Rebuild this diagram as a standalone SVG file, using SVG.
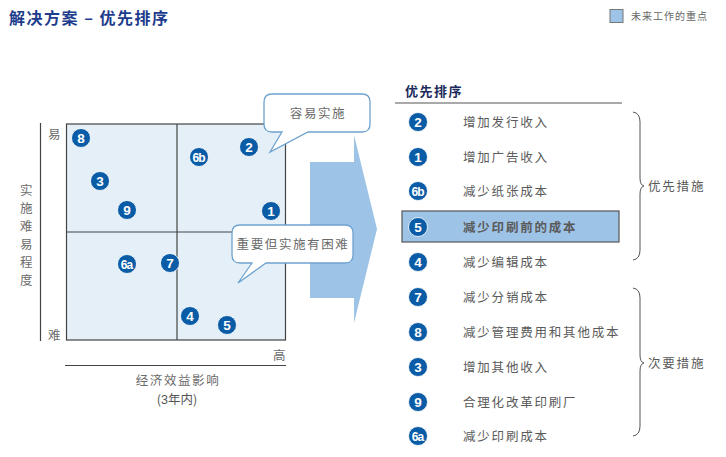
<svg xmlns="http://www.w3.org/2000/svg" width="726" height="457" viewBox="0 0 726 457">
<defs>
<style>
.cjk{font-family:"Noto Sans CJK SC","Liberation Sans",sans-serif;}
.t{font-family:"Noto Sans CJK SC","Liberation Sans",sans-serif;font-size:12.5px;fill:#5a5a5a;letter-spacing:1.8px;}
.lab{font-family:"Noto Sans CJK SC","Liberation Sans",sans-serif;font-size:12.5px;fill:#6a6a6a;letter-spacing:1.6px;}
.title{font-family:"Noto Sans CJK SC","Liberation Sans",sans-serif;font-size:16px;font-weight:bold;fill:#1d3c8c;letter-spacing:1.5px;}
.hdr{font-family:"Noto Sans CJK SC","Liberation Sans",sans-serif;font-size:13px;font-weight:bold;fill:#1a2a5a;letter-spacing:1.5px;}
.num circle{fill:#0b5ca6;stroke:#ffffff;stroke-width:0.8;}
.num text{font-family:"Liberation Sans",Arial,sans-serif;font-size:13.5px;font-weight:bold;fill:#ffffff;text-anchor:middle;}
.num text.s{font-size:12px;letter-spacing:-1px;}
.bub{fill:#ffffff;stroke:#6fa3cf;stroke-width:1.3;}
.ax{stroke:#444;stroke-width:1.2;fill:none;}
.brace{stroke:#555;stroke-width:1;fill:none;}
</style>
</defs>
<text class="title" x="9" y="24">解决方案 – 优先排序</text>
<g id="legend">
<rect x="610" y="9.5" width="13" height="13" fill="#9dc3e6" stroke="#777" stroke-width="1"/>
<text class="cjk" x="631" y="20" font-size="10" fill="#666" letter-spacing="1">未来工作的重点</text>
</g>
<g id="matrix">
<rect x="66.5" y="124" width="219" height="216" fill="#e4eff8" stroke="#444" stroke-width="1.2"/>
<line x1="177" y1="124" x2="177" y2="340" stroke="#444" stroke-width="1.2"/>
<line x1="66.5" y1="232" x2="285.5" y2="232" stroke="#444" stroke-width="1.2"/>
<line class="ax" x1="40.5" y1="123" x2="40.5" y2="341"/>
<line class="ax" x1="65" y1="365.5" x2="286" y2="365.5"/>
<text class="lab" x="48" y="139">易</text>
<text class="lab" x="48" y="340">难</text>
<text class="lab" x="273" y="360">高</text>
<g class="lab" text-anchor="middle">
<text x="27" y="195">实</text>
<text x="27" y="213">施</text>
<text x="27" y="231">难</text>
<text x="27" y="249">易</text>
<text x="27" y="267">程</text>
<text x="27" y="285">度</text>
</g>
<text class="lab" x="178" y="385" text-anchor="middle" font-size="12">经济效益影响</text>
<text class="cjk" x="177" y="404" text-anchor="middle" font-size="12.5" fill="#555">(<tspan font-family="Liberation Sans">3</tspan>年内)</text>
</g>
<g id="arrow">
<polygon points="310,162 354,162 354,135 377,229 354,323 354,298 310,298" fill="#9dc3e6"/>
</g>
<g id="bubble-easy">
<path class="bub" d="M272,94 H362 Q370,94 370,102 V124 Q370,132 362,132 H308 L270,152 L282,132 H272 Q264,132 264,124 V102 Q264,94 272,94 Z"/>
<text class="lab" x="318" y="118" text-anchor="middle">容易实施</text>
</g>
<g id="plot-points">
<g id="p8" class="num"><circle cx="81" cy="138" r="9.5"/><text x="81" y="142.5">8</text></g>
<g id="p3" class="num"><circle cx="100" cy="181" r="9.5"/><text x="100" y="185.5">3</text></g>
<g id="p9" class="num"><circle cx="127" cy="210" r="9.5"/><text x="127" y="214.5">9</text></g>
<g id="p6b" class="num"><circle cx="199" cy="157" r="9.5"/><text class="s" x="198.5" y="161.5">6b</text></g>
<g id="p2" class="num"><circle cx="249" cy="147" r="9.5"/><text x="249" y="151.5">2</text></g>
<g id="p1" class="num"><circle cx="271" cy="211" r="9.5"/><text x="271" y="215.5">1</text></g>
<g id="p6a" class="num"><circle cx="127" cy="264" r="9.5"/><text class="s" x="126.5" y="268.5">6a</text></g>
<g id="p7" class="num"><circle cx="170" cy="263" r="9.5"/><text x="170" y="267.5">7</text></g>
<g id="p4" class="num"><circle cx="190" cy="316" r="9.5"/><text x="190" y="320.5">4</text></g>
<g id="p5" class="num"><circle cx="227" cy="325" r="9.5"/><text x="227" y="329.5">5</text></g>
</g>
<g id="bubble-hard">
<path class="bub" d="M240,225 H345 Q353,225 353,233 V255 Q353,263 345,263 H266 L238,283 L252,263 H240 Q232,263 232,255 V233 Q232,225 240,225 Z"/>
<text class="lab" x="293" y="249" text-anchor="middle">重要但实施有困难</text>
</g>
<g id="priority-list">
<text class="hdr" x="405" y="96">优先排序</text>
<line x1="395" y1="103" x2="622" y2="103" stroke="#555" stroke-width="1.2"/>
<rect id="highlight" x="402" y="211" width="217" height="31" fill="#9dc3e6" stroke="#555" stroke-width="1.2"/>
<g id="r2"><g class="num"><circle cx="418" cy="122" r="9.5"/><text x="418" y="126.5">2</text></g><text class="t" x="463" y="126.5">增加发行收入</text></g>
<g id="r1"><g class="num"><circle cx="418" cy="157" r="9.5"/><text x="418" y="161.5">1</text></g><text class="t" x="463" y="161.5">增加广告收入</text></g>
<g id="r6b"><g class="num"><circle cx="418" cy="191" r="9.5"/><text class="s" x="417.5" y="195.5">6b</text></g><text class="t" x="463" y="195.5">减少纸张成本</text></g>
<g id="r5"><g class="num"><circle cx="418" cy="227" r="9.5"/><text x="418" y="231.5">5</text></g><text class="t" x="463" y="231.5" font-weight="bold" fill="#2a2a2a">减少印刷前的成本</text></g>
<g id="r4"><g class="num"><circle cx="418" cy="262" r="9.5"/><text x="418" y="266.5">4</text></g><text class="t" x="463" y="266.5">减少编辑成本</text></g>
<g id="r7"><g class="num"><circle cx="418" cy="297" r="9.5"/><text x="418" y="301.5">7</text></g><text class="t" x="463" y="301.5">减少分销成本</text></g>
<g id="r8"><g class="num"><circle cx="418" cy="332" r="9.5"/><text x="418" y="336.5">8</text></g><text class="t" x="463" y="336.5">减少管理费用和其他成本</text></g>
<g id="r3"><g class="num"><circle cx="418" cy="367" r="9.5"/><text x="418" y="371.5">3</text></g><text class="t" x="463" y="371.5">增加其他收入</text></g>
<g id="r9"><g class="num"><circle cx="418" cy="402" r="9.5"/><text x="418" y="406.5">9</text></g><text class="t" x="463" y="406.5">合理化改革印刷厂</text></g>
<g id="r6a"><g class="num"><circle cx="418" cy="436" r="9.5"/><text class="s" x="417.5" y="440.5">6a</text></g><text class="t" x="463" y="440.5">减少印刷成本</text></g>
</g>
<g id="braces">
<path class="brace" d="M633,112 Q640,113 640,122 V178 Q640,185 644,186 Q640,187 640,194 V250 Q640,259 633,260"/>
<path class="brace" d="M633,288 Q640,289 640,298 V355 Q640,362 644,363 Q640,364 640,371 V426 Q640,435 633,436"/>
<text class="t" x="648" y="191">优先措施</text>
<text class="t" x="648" y="368">次要措施</text>
</g>
</svg>
